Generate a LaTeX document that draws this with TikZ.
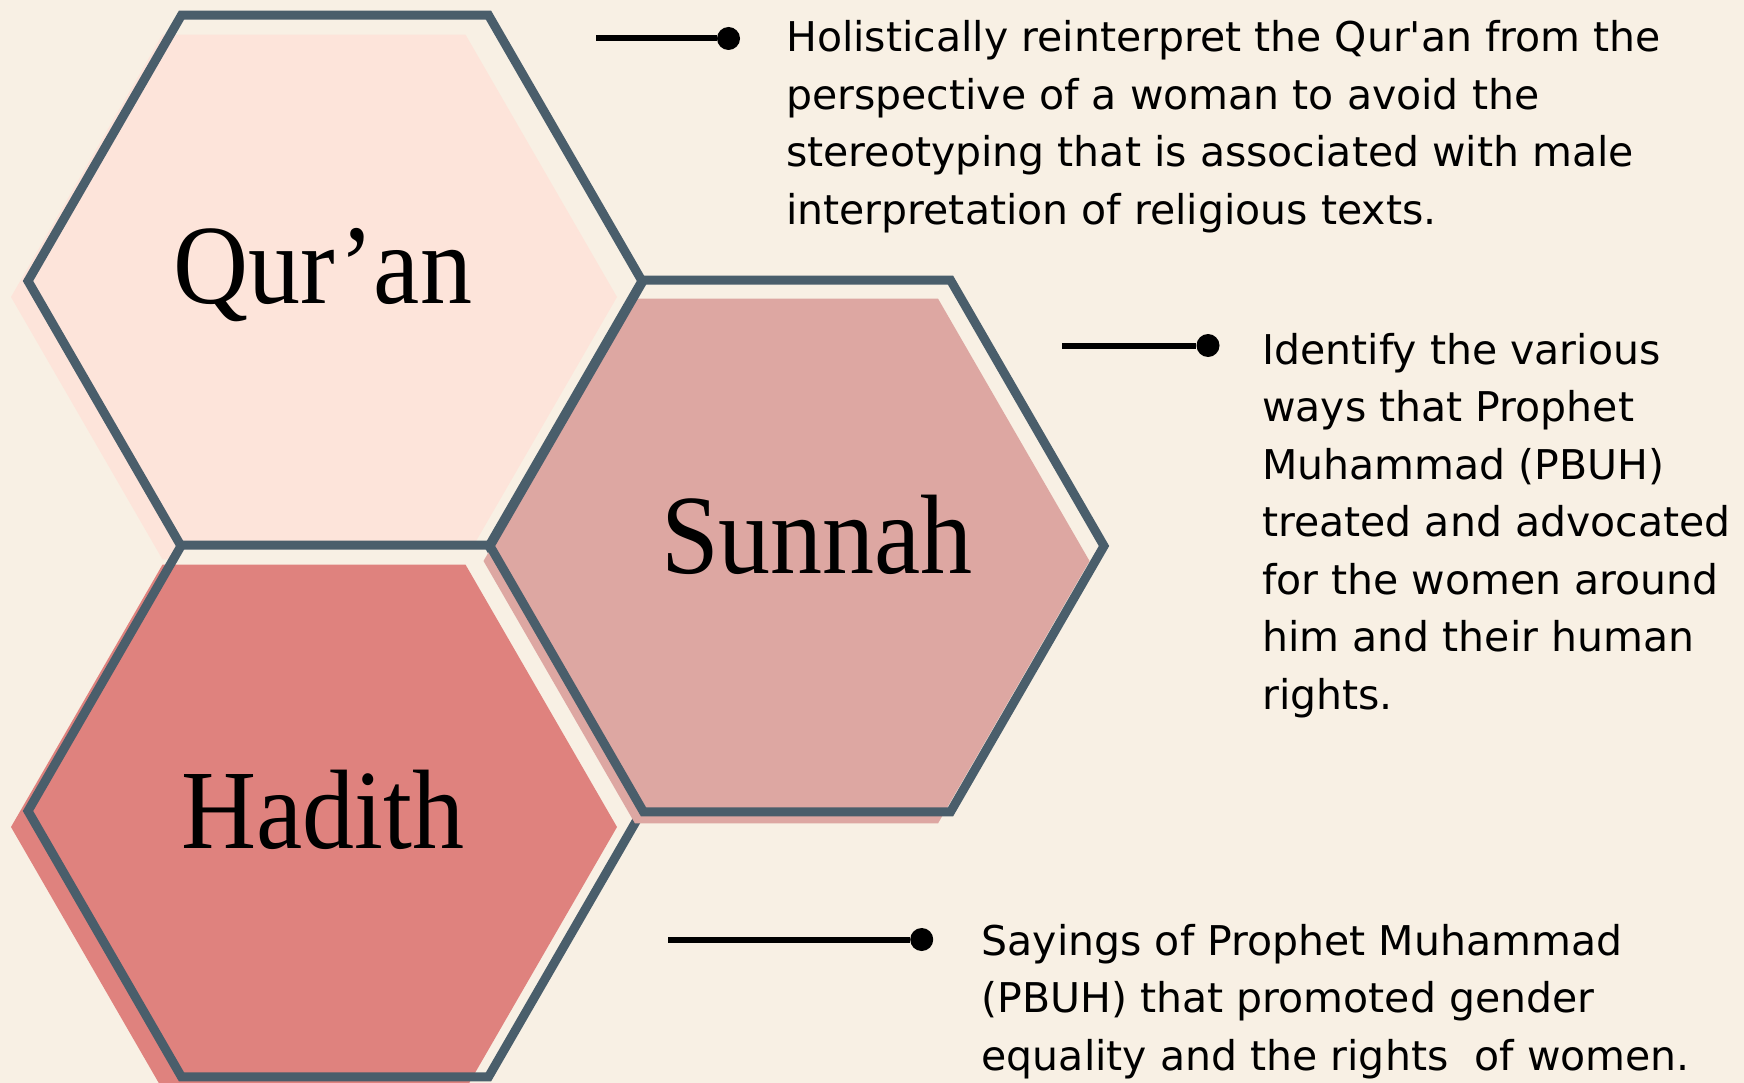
\documentclass[tikz,border=0pt]{standalone}
\usepackage{fontspec}
\setmainfont{DejaVu Sans}[Ligatures=TeXOff]
\newfontfamily\hexfont{Liberation Serif}[FakeStretch=0.92]
\usetikzlibrary{positioning}

\definecolor{cream}{HTML}{F8F0E4}
\definecolor{quranpink}{HTML}{FDE4DA}
\definecolor{sunnahrose}{HTML}{DDA7A2}
\definecolor{hadithred}{HTML}{DF827E}
\definecolor{slate}{HTML}{4A5E6B}

\tikzset{
  hexback/.style={fill=cream},
  hexedge/.style={draw=slate, line width=9pt, line join=miter},
  hexlabel/.style={anchor=base, inner sep=0pt, font=\hexfont\fontsize{113}{113}\selectfont},
  note/.style={anchor=base west, inner sep=0pt, align=left, font=\fontsize{41}{57.5}\selectfont},
  bulletdot/.style={circle, fill=black, inner sep=0pt, minimum size=23pt},
  leader/.style={line width=6pt}
}

\begin{document}
\begin{tikzpicture}[x=1pt, y=-1pt]
      \useasboundingbox (0,0) rectangle (1744,1083);
      \fill[cream] (0,0) rectangle (1744,1083);
      \clip (0,0) rectangle (1744,1083);

      % Qur'an
      \fill[hexback] (335,281) +(0:307) -- +(60:307) -- +(120:307) -- +(180:307) -- +(240:307) -- +(300:307) -- cycle;
      \fill[quranpink] (314,297) +(0:303) -- +(60:303) -- +(120:303) -- +(180:303) -- +(240:303) -- +(300:303) -- cycle;
      \draw[hexedge] (335,281) +(0:307) -- +(60:307) -- +(120:307) -- +(180:307) -- +(240:307) -- +(300:307) -- cycle;
      \node[hexlabel] (quran) at (323,303.6) {Qur’an};

      % Hadith
      \fill[hexback] (335,811) +(0:307) -- +(60:307) -- +(120:307) -- +(180:307) -- +(240:307) -- +(300:307) -- cycle;
      \fill[hadithred] (314,827) +(0:303) -- +(60:303) -- +(120:303) -- +(180:303) -- +(240:303) -- +(300:303) -- cycle;
      \draw[hexedge] (335,811) +(0:307) -- +(60:307) -- +(120:307) -- +(180:307) -- +(240:307) -- +(300:307) -- cycle;
      \node[hexlabel] (hadith) at (323,848.5) {Hadith};

      % Sunnah
      \fill[hexback] (797,546) +(0:307) -- +(60:307) -- +(120:307) -- +(180:307) -- +(240:307) -- +(300:307) -- cycle;
      \fill[sunnahrose] (786.5,561) +(0:303) -- +(60:303) -- +(120:303) -- +(180:303) -- +(240:303) -- +(300:303) -- cycle;
      \draw[hexedge] (797,546) +(0:307) -- +(60:307) -- +(120:307) -- +(180:307) -- +(240:307) -- +(300:307) -- cycle;
      \node[hexlabel] (sunnah) at (817,573) {Sunnah};

      % notes (anchored at the last baseline)
      \coordinate (qstart) at (596,38.5);
      \node[bulletdot] (qdot) at (728.5,38.5) {};
      \node[note] (qnote) at (786,224.5) {Holistically reinterpret the Qur'an from the\\perspective of a woman to avoid the\\stereotyping that is associated with male\\interpretation of religious texts.};

      \coordinate (sstart) at (1062,345.5);
      \node[bulletdot] (sdot) at (1208,345.5) {};
      \node[note] (snote) at (1262,709) {Identify the various\\ways that Prophet\\Muhammad (PBUH)\\treated and advocated\\for the women around\\him and their human\\rights.};

      \coordinate (hstart) at (668,939.5);
      \node[bulletdot] (hdot) at (921.7,939.5) {};
      \node[note] (hnote) at (981.5,1070) {Sayings of Prophet Muhammad\\(PBUH) that promoted gender\\equality and the rights~ of women.};

      \begin{scope}[leader]
        \draw (qstart) -- (qdot);
        \draw (sstart) -- (sdot);
        \draw (hstart) -- (hdot);
      \end{scope}
    \end{tikzpicture}
\end{document}
